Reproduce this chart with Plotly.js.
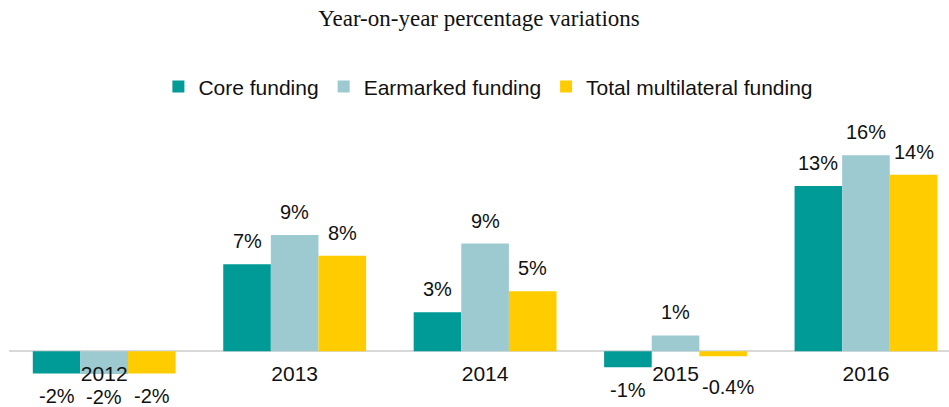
<!DOCTYPE html>
<html>
<head>
<meta charset="utf-8">
<script src="https://cdn.plot.ly/plotly-3.0.1.min.js"></script>
<style>html,body{margin:0;padding:0;background:#fff;}#chart{width:949px;height:407px;}</style>
</head>
<body>
<div id="chart"></div>
<script>
var years = ['2012', '2013', '2014', '2015', '2016'];
var seriesNames = ['Core funding', 'Earmarked funding', 'Total multilateral funding'];
var coreValues = [-1.8, 7.1, 3.2, -1.3, 13.5];
var earmarkedValues = [-1.85, 9.5, 8.8, 1.3, 16.0];
var totalValues = [-1.8, 7.8, 4.9, -0.4, 14.4];
var coreLabels = ['-2%', '7%', '3%', '-1%', '13%'];
var earmarkedLabels = ['-2%', '9%', '9%', '1%', '16%'];
var totalLabels = ['-2%', '8%', '5%', '-0.4%', '14%'];
var colors = ['#009a97', '#9dcad1', '#ffcc00'];

var values = [coreValues, earmarkedValues, totalValues];
var labels = [coreLabels, earmarkedLabels, totalLabels];

var traces = values.map(function (v, s) {
  return {
    type: 'bar',
    name: seriesNames[s],
    x: years,
    y: v,
    marker: {color: colors[s], line: {width: 0}},
    hoverinfo: 'x+y'
  };
});

var annotations = [];
values.forEach(function (v, s) {
  v.forEach(function (val, i) {
    var shift = val >= 0 ? 23 : (Math.abs(val) < 1 ? -31 : -23);
    annotations.push({
      x: i + (s - 1) * 0.25,
      y: val,
      xref: 'x', yref: 'y',
      text: labels[s][i],
      showarrow: false,
      yanchor: 'middle',
      yshift: shift,
      xshift: (val < 0 && Math.abs(val) < 1) ? 5 : 0,
      borderpad: 0,
      font: {family: 'Liberation Sans, Arial, sans-serif', size: 20, color: '#111111'}
    });
  });
});

var layout = {
  width: 949, height: 407,
  margin: {l: 9, r: 0, t: 143, b: 25},
  paper_bgcolor: '#ffffff', plot_bgcolor: '#ffffff',
  title: {
    text: 'Year-on-year percentage variations',
    font: {family: 'Liberation Serif, Times New Roman, serif', size: 23, color: '#111111'},
    x: 0.5, xanchor: 'center', xref: 'paper',
    y: 0.955, yref: 'container', yanchor: 'middle'
  },
  barmode: 'group', bargap: 0.25, bargroupgap: 0,
  showlegend: true,
  legend: {
    orientation: 'h', x: 0.51, xanchor: 'center', y: 1.235, yanchor: 'middle',
    font: {family: 'Liberation Sans, Arial, sans-serif', size: 21, color: '#111111'},
    itemwidth: 30, traceorder: 'normal'
  },
  xaxis: {
    type: 'category', range: [-0.5, 4.436],
    anchor: 'free', position: 2.5 / 19.5,
    showline: false, ticks: '', showgrid: false, zeroline: false,
    ticklabelstandoff: 8,
    tickfont: {family: 'Liberation Sans, Arial, sans-serif', size: 21, color: '#111111'}
  },
  yaxis: {
    range: [-2.5, 17], showgrid: false, showticklabels: false, ticks: '',
    zeroline: true, zerolinecolor: '#d9d9d9', zerolinewidth: 2, showline: false
  },
  annotations: annotations
};

Plotly.newPlot('chart', traces, layout, {displayModeBar: false, staticPlot: true});
</script>
</body>
</html>
